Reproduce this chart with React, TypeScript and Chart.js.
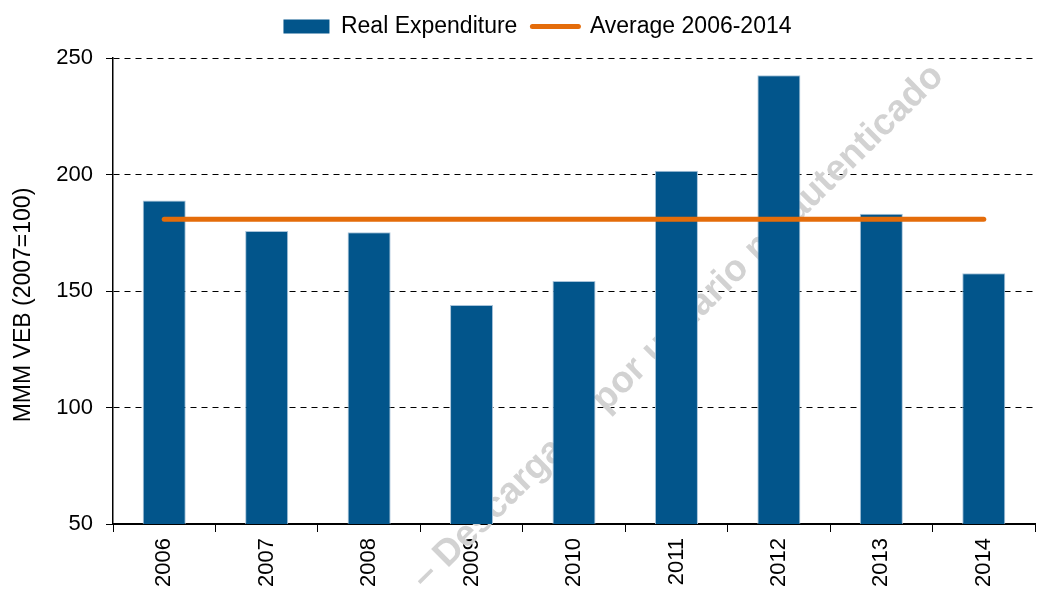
import React, { useEffect, useRef } from "react";
import { Chart, registerables } from "chart.js";

Chart.register(...registerables);

const categories = ["2006", "2007", "2008", "2009", "2010", "2011", "2012", "2013", "2014"];
const realExpenditure = [188.8, 175.8, 175.2, 144.0, 154.3, 201.6, 242.6, 183.2, 157.6];
const average2006to2014 = [180.8, 180.8, 180.8, 180.8, 180.8, 180.8, 180.8, 180.8, 180.8];
const yTicks = [50, 100, 150, 200, 250];

const BAR_COLOR = "#02558B";
const LINE_COLOR = "#E46C0A";
const FONT = "'Liberation Sans', Arial, sans-serif";
const WATERMARK = "\u2013 Descargado por usuario no autenticado";

const watermarkPlugin = {
  id: "watermark",
  beforeDatasetsDraw(chart: any) {
    const ctx = chart.ctx;
    ctx.save();
    ctx.translate(678, 327);
    ctx.rotate(-Math.atan2(505, 512));
    ctx.font = `bold 37px ${FONT}`;
    ctx.fillStyle = "#d2d2d2";
    ctx.textAlign = "center";
    ctx.textBaseline = "middle";
    ctx.fillText(WATERMARK, 0, 0);
    ctx.restore();
  },
};

// Adjusts the legend box height / horizontal offset and the y title's vertical offset.
const layoutTweaksPlugin = {
  id: "layoutTweaks",
  beforeLayout(chart: any) {
    const lg = chart.legend;
    if (lg && !lg._patched) {
      const origFit = lg.fit.bind(lg);
      lg.fit = function () {
        origFit();
        this.height = 58;
      };
      const origDraw = lg.draw.bind(lg);
      lg.draw = function () {
        const ctx = this.ctx;
        ctx.save();
        ctx.translate(20, 0);
        origDraw();
        ctx.restore();
      };
      lg._patched = true;
    }
  },
  beforeDraw(chart: any) {
    const y = chart.scales.y;
    if (y && !y._patchedTitle) {
      const origTitle = y.drawTitle.bind(y);
      y.drawTitle = function () {
        const ctx = this.ctx;
        ctx.save();
        ctx.translate(0, 14);
        origTitle();
        ctx.restore();
      };
      y._patchedTitle = true;
    }
  },
};

export default function App() {
  const ref = useRef<HTMLCanvasElement | null>(null);

  useEffect(() => {
    if (!ref.current) return;
    Chart.defaults.font.family = FONT;
    Chart.defaults.color = "#000";
    const chart = new Chart(ref.current, {
      type: "bar",
      data: {
        labels: categories,
        datasets: [
          {
            type: "bar",
            label: "Real Expenditure",
            data: realExpenditure,
            backgroundColor: BAR_COLOR,
            borderColor: "#a9c4da",
            borderWidth: 1,
            barPercentage: 0.42,
            categoryPercentage: 1,
            order: 1,
          } as any,
          {
            type: "line",
            label: "Average 2006-2014",
            data: average2006to2014,
            borderColor: LINE_COLOR,
            backgroundColor: LINE_COLOR,
            borderWidth: 5,
            borderCapStyle: "round",
            pointRadius: 0,
            pointHoverRadius: 0,
            order: 0,
          } as any,
        ],
      },
      options: {
        animation: false,
        responsive: false,
        maintainAspectRatio: false,
        layout: { padding: { left: 0, right: 8, top: 0, bottom: 0 } },
        plugins: {
          tooltip: { enabled: false },
          legend: {
            display: true,
            position: "top",
            labels: {
              usePointStyle: true,
              pointStyleWidth: 46,
              boxHeight: 14,
              padding: 15,
              color: "#000",
              font: { size: 23, family: FONT },
              sort: (a: any, b: any) => a.datasetIndex - b.datasetIndex,
              generateLabels: (c: any) => {
                const items = (Chart.defaults.plugins.legend.labels as any).generateLabels(c);
                items.forEach((it: any) => {
                  if (it.datasetIndex === 0) {
                    it.pointStyle = "rect";
                    it.fillStyle = BAR_COLOR;
                    it.strokeStyle = BAR_COLOR;
                    it.lineWidth = 0;
                  } else {
                    it.pointStyle = "line";
                    it.strokeStyle = LINE_COLOR;
                    it.fillStyle = LINE_COLOR;
                    it.lineWidth = 5;
                    it.lineCap = "round";
                  }
                });
                return items;
              },
            },
          },
        },
        scales: {
          x: {
            offset: true,
            grid: {
              display: true,
              offset: true,
              drawOnChartArea: false,
              drawTicks: true,
              tickLength: 8,
              color: "#000",
              tickColor: "#000",
            },
            border: { display: true, color: "#000", width: 2 },
            ticks: {
              minRotation: 90,
              maxRotation: 90,
              padding: 6,
              color: "#000",
              font: { size: 22, family: FONT },
            },
            afterFit: (scale: any) => {
              scale.height = 66;
            },
          },
          y: {
            min: 50,
            max: 250,
            afterBuildTicks: (scale: any) => {
              scale.ticks = yTicks.map((v) => ({ value: v }));
            },
            grid: {
              color: "#000",
              lineWidth: 1,
              drawTicks: true,
              tickLength: 7,
              tickColor: "#000",
              tickBorderDash: [],
            },
            border: { display: true, color: "#000", width: 1.5, dash: [6, 5] },
            ticks: {
              padding: 13,
              color: "#000",
              font: { size: 22, family: FONT },
            },
            title: {
              display: true,
              text: "MMM VEB (2007=100)",
              color: "#000",
              font: { size: 23, family: FONT },
              padding: { top: 10, bottom: 0 },
            },
            afterFit: (scale: any) => {
              scale.width = 113;
            },
          },
        },
      },
      plugins: [watermarkPlugin, layoutTweaksPlugin],
    });
    return () => chart.destroy();
  }, []);

  return (
    <div style={{ position: "absolute", left: 0, top: 0, width: 1043, height: 590, background: "#fff" }}>
      <canvas ref={ref} width={1043} height={590} style={{ width: 1043, height: 590 }} />
    </div>
  );
}
